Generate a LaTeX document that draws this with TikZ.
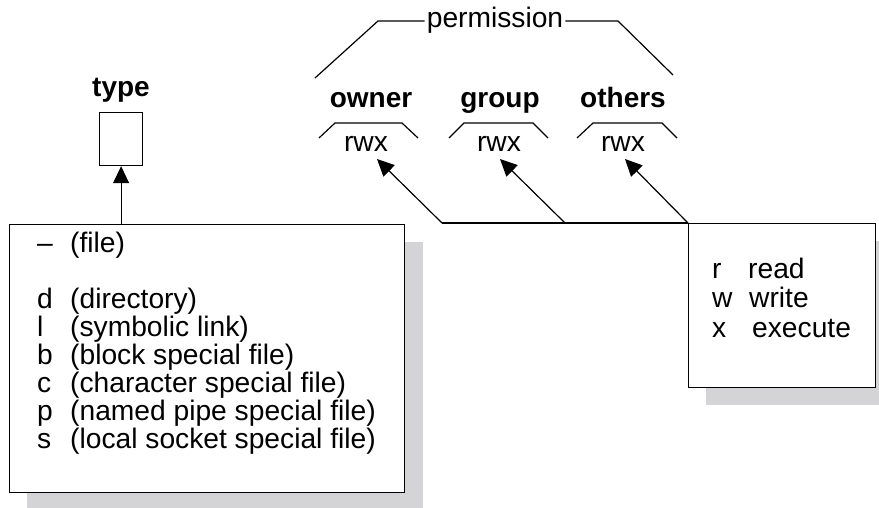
\documentclass[tikz,border=0pt]{standalone}
\usepackage{fontspec}
\setmainfont{Liberation Sans}
\usetikzlibrary{arrows.meta}
\definecolor{shadowc}{RGB}{212,212,215}
\tikzset{
  ln/.style={line width=1.2pt, line join=miter},
  boxst/.style={draw, ln, fill=white, inner sep=0pt},
  txt/.style={inner sep=0pt, font=\fontsize{28.2}{31}\selectfont},
  btxt/.style={inner sep=0pt, font=\fontsize{28}{31}\selectfont\bfseries},
  arr/.style={ln, -{Triangle[length=17pt,width=16pt]}},
}
\begin{document}
\begin{tikzpicture}[x=1pt,y=-1pt]
\useasboundingbox (0,0) rectangle (879,508);
% permission bracket
\node[txt, anchor=base, inner sep=2pt] (perm) at (495,28) {permission};
\draw[ln] (315,78) -- (378,21) -- (perm.west |- 0,21);
\draw[ln] (perm.east |- 0,21) -- (618,21) -- (673,75);
% owner / group / others
\node[btxt, anchor=base] (owner) at (371,108) {owner};
\node[btxt, anchor=base] (group) at (500,108) {group};
\node[btxt, anchor=base] (others) at (623,108) {others};
\draw[ln] (319,138) -- (335,123) -- (402,123) -- (418,138);
\draw[ln] (449,138) -- (464,123) -- (533,123) -- (548,138);
\draw[ln] (577,138) -- (593,123) -- (662,123) -- (677,138);
\node[txt, anchor=base] (rwx1) at (366,152) {rwx};
\node[txt, anchor=base] (rwx2) at (499,152) {rwx};
\node[txt, anchor=base] (rwx3) at (623,152) {rwx};
% type
\node[btxt, anchor=base] (type) at (121,97) {type};
\node[boxst, minimum width=43pt, minimum height=53pt, anchor=north west] (tbox) at (99,112) {};
% left box
\fill[shadowc] (27,242) rectangle (423,512);
\node[boxst, minimum width=395pt, minimum height=268pt, anchor=north west] (lbox) at (9,224) {};
\draw[arr] (tbox.south |- lbox.north) -- (tbox.south);
\node[txt, anchor=base west] (t1) at (37,252) {\makebox[33pt][l]{–}(file)};
\node[txt, anchor=base west] (t2) at (37,308) {\makebox[33pt][l]{d}(directory)};
\node[txt, anchor=base west] (t3) at (37,336) {\makebox[33pt][l]{l}(symbolic link)};
\node[txt, anchor=base west] (t4) at (37,364) {\makebox[33pt][l]{b}(block special file)};
\node[txt, anchor=base west] (t5) at (37,392) {\makebox[33pt][l]{c}(character special file)};
\node[txt, anchor=base west] (t6) at (37,420) {\makebox[33pt][l]{p}(named pipe special file)};
\node[txt, anchor=base west] (t7) at (37,448) {\makebox[33pt][l]{s}(local socket special file)};
% right box
\fill[shadowc] (706,241) rectangle (895,405);
\node[boxst, minimum width=187pt, minimum height=164pt, anchor=north west] (rbox) at (688,223) {};
\node[txt, anchor=base west] (r1) at (712,278) {\makebox[36pt][l]{r}read};
\node[txt, anchor=base west] (r2) at (712,307) {\makebox[37pt][l]{w}write};
\node[txt, anchor=base west] (r3) at (712,337) {\makebox[40pt][l]{x}execute};
% connectors
\coordinate (j1) at (442,223);
\coordinate (j2) at (565,223);
\coordinate (e1) at (377,159);
\coordinate (e2) at (500,159);
\coordinate (e3) at (625,159);
\draw[ln] (j1) -- (rbox.north west);
\draw[arr] (j1) -- (e1);
\draw[arr] (j2) -- (e2);
\draw[arr] (rbox.north west) -- (e3);
\end{tikzpicture}
\end{document}
